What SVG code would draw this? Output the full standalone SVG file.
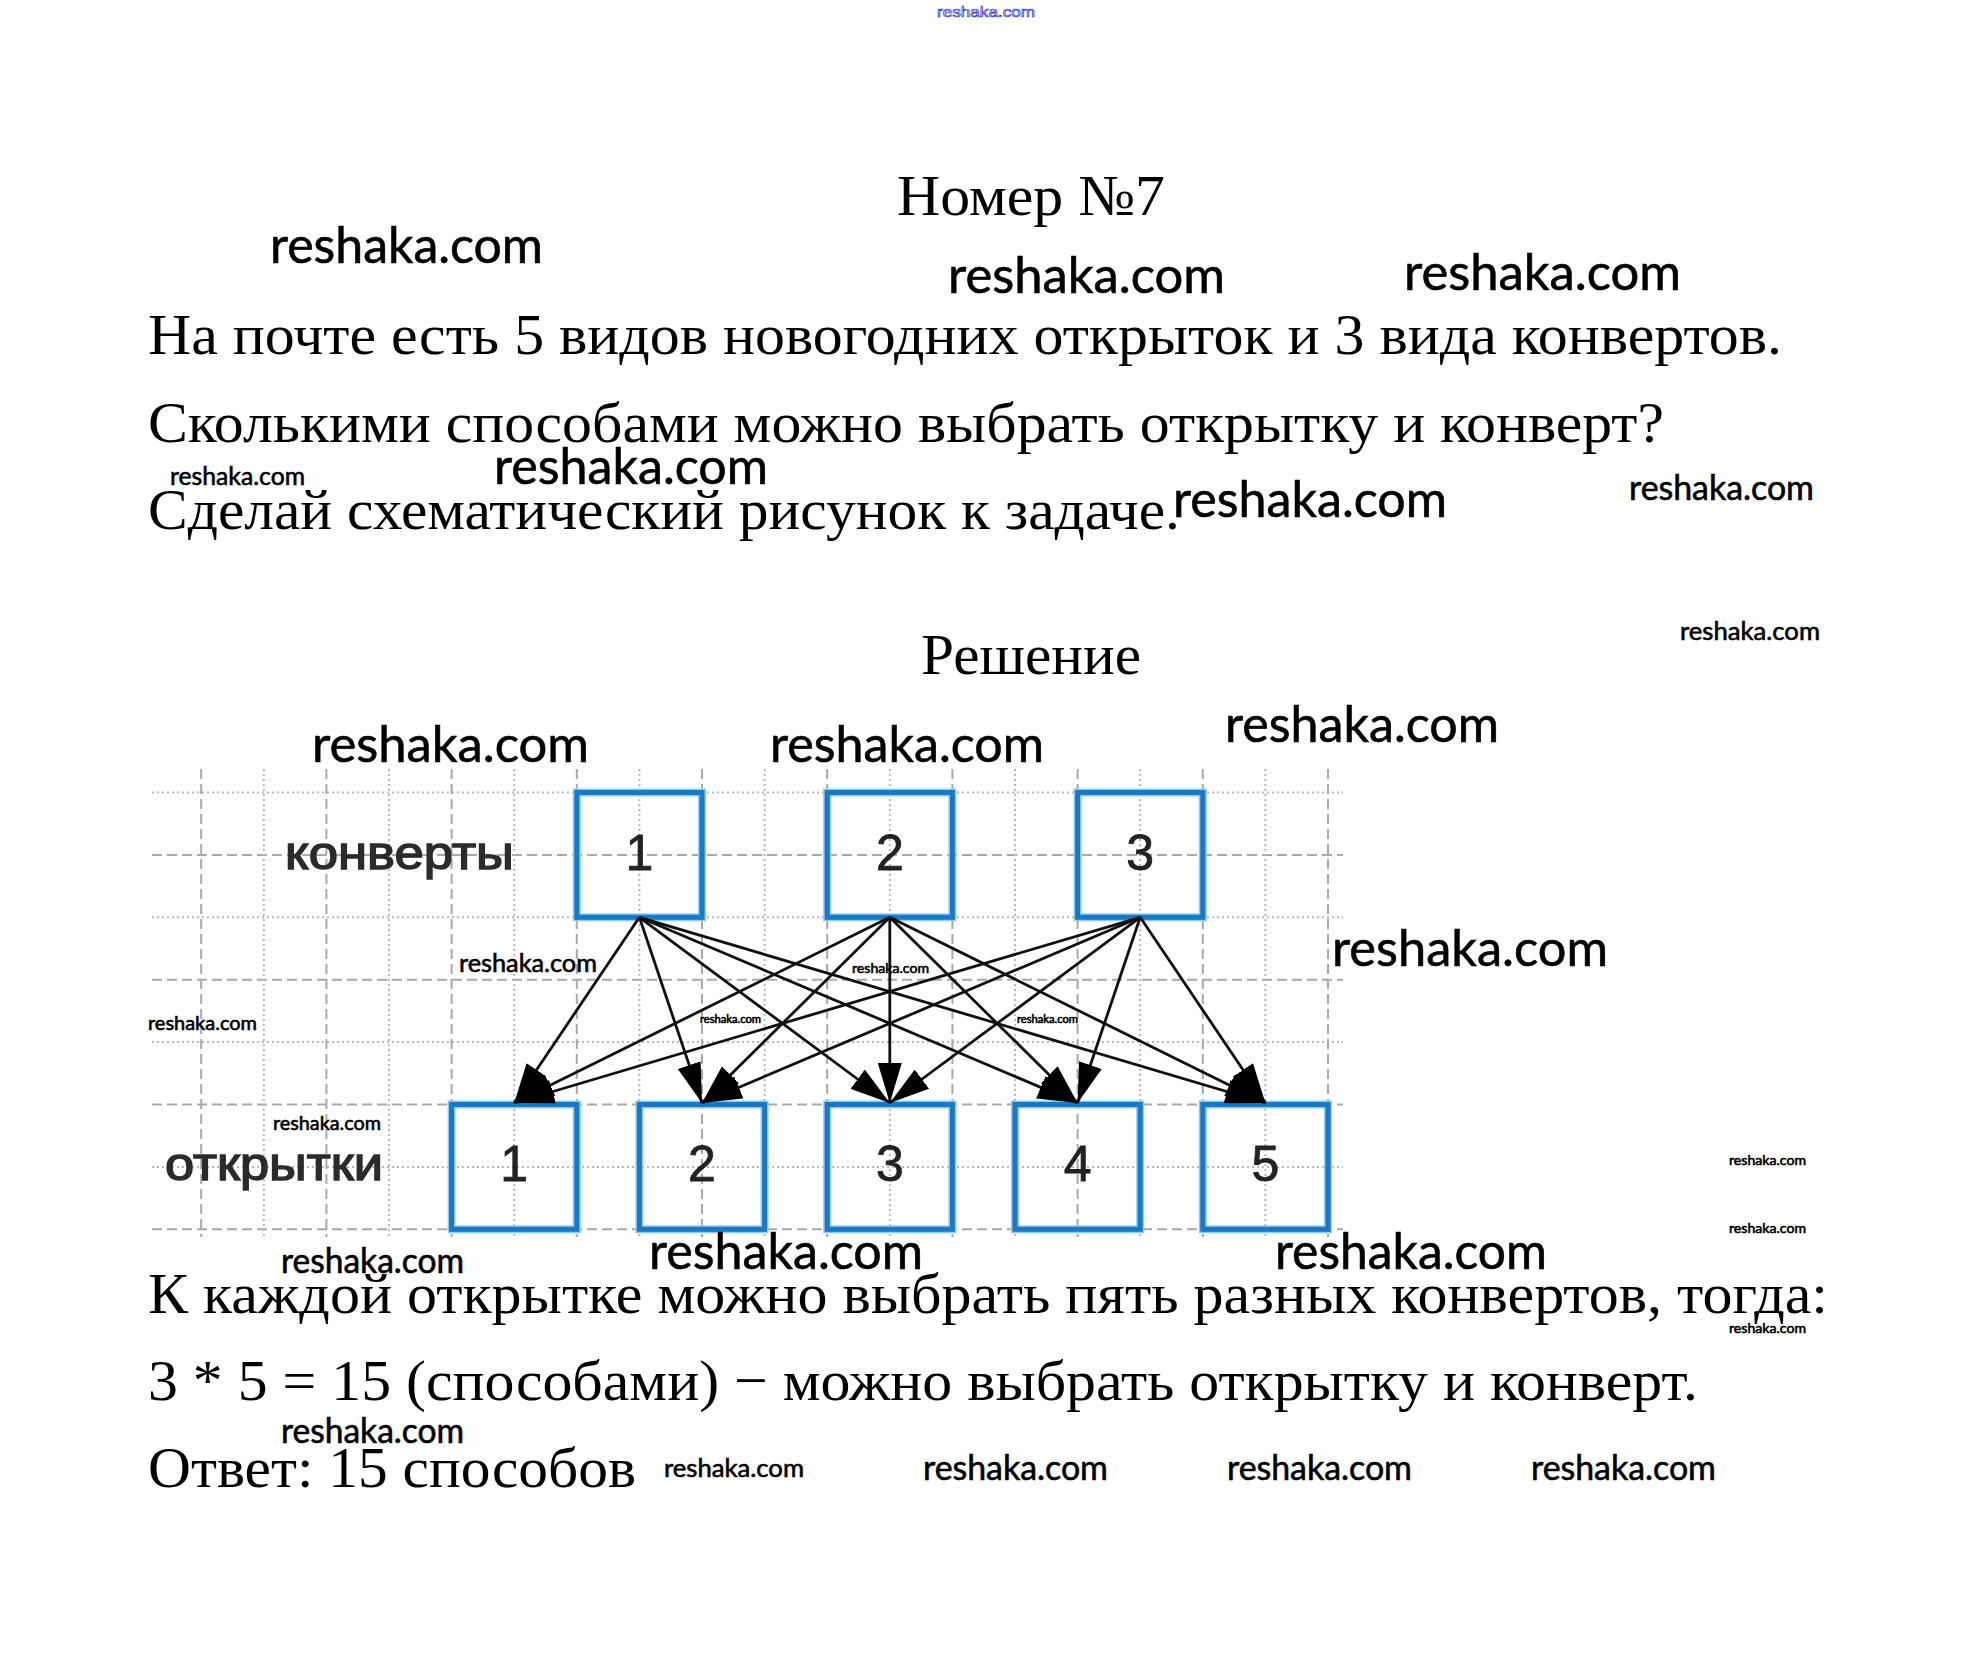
<svg xmlns="http://www.w3.org/2000/svg" width="1970" height="1672" viewBox="0 0 1970 1672">
<defs>
<style>
.serif{font-family:"Liberation Serif","Times New Roman",serif;font-size:58px;fill:#000}
.wm{font-family:Lato,"Liberation Sans",sans-serif;fill:#000;stroke:#000;stroke-width:0.6}
.gd{stroke:#a9a9a9;stroke-width:2;stroke-dasharray:10 5;fill:none}
.gt{stroke:#b9b9b9;stroke-width:2;stroke-dasharray:2 3;fill:none}
.boxo{fill:none;stroke:#8ccbf0;stroke-width:8}
.boxi{fill:none;stroke:#1a79c4;stroke-width:5}
.num{font-family:"Liberation Sans",Arial,sans-serif;font-size:50px;fill:#222;stroke:#222;stroke-width:0.8;text-anchor:middle}
.lbl{font-family:"Liberation Sans",Arial,sans-serif;font-size:46px;fill:#2b2b2b;stroke:#2b2b2b;stroke-width:1.4}
.c{stroke:#111;stroke-width:2.8;fill:none;marker-end:url(#ah)}
</style>
<marker id="ah" markerUnits="userSpaceOnUse" viewBox="0 -12 40 24" refX="40" refY="0" markerWidth="40" markerHeight="24" orient="auto">
<path d="M0,-12 L40,0 L0,12 Z" fill="#000"/>
</marker>
</defs>
<rect width="1970" height="1672" fill="#fff"/>

<text x="937" y="17" font-family="Liberation Sans, sans-serif" font-size="15" fill="none" stroke="#2b2bd0" stroke-width="0.7" textLength="98" lengthAdjust="spacingAndGlyphs">reshaka.com</text>

<g id="texts">
<text class="serif" x="897" y="215" textLength="268" lengthAdjust="spacingAndGlyphs">Номер №7</text>
<text class="serif" x="148" y="354" textLength="1634" lengthAdjust="spacingAndGlyphs">На почте есть 5 видов новогодних открыток и 3 вида конвертов.</text>
<text class="serif" x="148" y="442" textLength="1516" lengthAdjust="spacingAndGlyphs">Сколькими способами можно выбрать открытку и конверт?</text>
<text class="serif" x="148" y="529" textLength="1032" lengthAdjust="spacingAndGlyphs">Сделай схематический рисунок к задаче.</text>
<text class="serif" x="921" y="674" textLength="220" lengthAdjust="spacingAndGlyphs">Решение</text>
<text class="serif" x="148" y="1313" textLength="1680" lengthAdjust="spacingAndGlyphs">К каждой открытке можно выбрать пять разных конвертов, тогда:</text>
<text class="serif" x="148" y="1400" textLength="1550" lengthAdjust="spacingAndGlyphs">3 * 5 = 15 (способами) − можно выбрать открытку и конверт.</text>
<text class="serif" x="148" y="1487" textLength="488" lengthAdjust="spacingAndGlyphs">Ответ: 15 способов</text>
</g>

<g id="grid">
<line class="gt" x1="152" y1="792.5" x2="1343" y2="792.5"/>
<line class="gd" x1="152" y1="854.9" x2="1343" y2="854.9"/>
<line class="gt" x1="152" y1="917.3" x2="1343" y2="917.3"/>
<line class="gd" x1="152" y1="979.7" x2="1343" y2="979.7"/>
<line class="gt" x1="152" y1="1042.1" x2="1343" y2="1042.1"/>
<line class="gd" x1="152" y1="1104.5" x2="1343" y2="1104.5"/>
<line class="gt" x1="152" y1="1166.9" x2="1343" y2="1166.9"/>
<line class="gd" x1="152" y1="1229.3" x2="1343" y2="1229.3"/>
<line class="gd" x1="201.2" y1="769" x2="201.2" y2="1237"/>
<line class="gt" x1="263.8" y1="769" x2="263.8" y2="1237"/>
<line class="gd" x1="326.4" y1="769" x2="326.4" y2="1237"/>
<line class="gt" x1="389" y1="769" x2="389" y2="1237"/>
<line class="gd" x1="451.6" y1="769" x2="451.6" y2="1237"/>
<line class="gt" x1="514.2" y1="769" x2="514.2" y2="1237"/>
<line class="gd" x1="576.8" y1="769" x2="576.8" y2="1237"/>
<line class="gt" x1="639.4" y1="769" x2="639.4" y2="1237"/>
<line class="gd" x1="702" y1="769" x2="702" y2="1237"/>
<line class="gt" x1="764.6" y1="769" x2="764.6" y2="1237"/>
<line class="gd" x1="827.2" y1="769" x2="827.2" y2="1237"/>
<line class="gt" x1="889.8" y1="769" x2="889.8" y2="1237"/>
<line class="gd" x1="952.4" y1="769" x2="952.4" y2="1237"/>
<line class="gt" x1="1015" y1="769" x2="1015" y2="1237"/>
<line class="gd" x1="1077.6" y1="769" x2="1077.6" y2="1237"/>
<line class="gt" x1="1140.2" y1="769" x2="1140.2" y2="1237"/>
<line class="gd" x1="1202.8" y1="769" x2="1202.8" y2="1237"/>
<line class="gt" x1="1265.4" y1="769" x2="1265.4" y2="1237"/>
<line class="gd" x1="1328" y1="769" x2="1328" y2="1237"/>
</g>

<text class="lbl" x="285" y="869" textLength="229" lengthAdjust="spacingAndGlyphs">конверты</text>
<text class="lbl" x="165" y="1180" textLength="218" lengthAdjust="spacingAndGlyphs">открытки</text>

<g id="env1"><rect class="boxo" x="576.8" y="792.5" width="125.2" height="124.8"/><rect class="boxi" x="576.8" y="792.5" width="125.2" height="124.8"/><text class="num" x="639.4" y="870">1</text></g>
<g id="env2"><rect class="boxo" x="827.2" y="792.5" width="125.2" height="124.8"/><rect class="boxi" x="827.2" y="792.5" width="125.2" height="124.8"/><text class="num" x="889.8" y="870">2</text></g>
<g id="env3"><rect class="boxo" x="1077.6" y="792.5" width="125.2" height="124.8"/><rect class="boxi" x="1077.6" y="792.5" width="125.2" height="124.8"/><text class="num" x="1140.2" y="870">3</text></g>

<g id="card1"><rect class="boxo" x="451.6" y="1104.5" width="125.2" height="124.8"/><rect class="boxi" x="451.6" y="1104.5" width="125.2" height="124.8"/><text class="num" x="514.2" y="1181">1</text></g>
<g id="card2"><rect class="boxo" x="639.4" y="1104.5" width="125.2" height="124.8"/><rect class="boxi" x="639.4" y="1104.5" width="125.2" height="124.8"/><text class="num" x="702" y="1181">2</text></g>
<g id="card3"><rect class="boxo" x="827.2" y="1104.5" width="125.2" height="124.8"/><rect class="boxi" x="827.2" y="1104.5" width="125.2" height="124.8"/><text class="num" x="889.8" y="1181">3</text></g>
<g id="card4"><rect class="boxo" x="1015" y="1104.5" width="125.2" height="124.8"/><rect class="boxi" x="1015" y="1104.5" width="125.2" height="124.8"/><text class="num" x="1077.6" y="1181">4</text></g>
<g id="card5"><rect class="boxo" x="1202.8" y="1104.5" width="125.2" height="124.8"/><rect class="boxi" x="1202.8" y="1104.5" width="125.2" height="124.8"/><text class="num" x="1265.4" y="1181">5</text></g>

<g id="connectors">
<line class="c" x1="639.4" y1="917.3" x2="514.2" y2="1103"/>
<line class="c" x1="639.4" y1="917.3" x2="702" y2="1103"/>
<line class="c" x1="639.4" y1="917.3" x2="889.8" y2="1103"/>
<line class="c" x1="639.4" y1="917.3" x2="1077.6" y2="1103"/>
<line class="c" x1="639.4" y1="917.3" x2="1265.4" y2="1103"/>
<line class="c" x1="889.8" y1="917.3" x2="514.2" y2="1103"/>
<line class="c" x1="889.8" y1="917.3" x2="702" y2="1103"/>
<line class="c" x1="889.8" y1="917.3" x2="889.8" y2="1103"/>
<line class="c" x1="889.8" y1="917.3" x2="1077.6" y2="1103"/>
<line class="c" x1="889.8" y1="917.3" x2="1265.4" y2="1103"/>
<line class="c" x1="1140.2" y1="917.3" x2="514.2" y2="1103"/>
<line class="c" x1="1140.2" y1="917.3" x2="702" y2="1103"/>
<line class="c" x1="1140.2" y1="917.3" x2="889.8" y2="1103"/>
<line class="c" x1="1140.2" y1="917.3" x2="1077.6" y2="1103"/>
<line class="c" x1="1140.2" y1="917.3" x2="1265.4" y2="1103"/>
</g>

<g id="watermarks">
<text class="wm" x="270" y="263" font-size="50" textLength="273" lengthAdjust="spacingAndGlyphs">reshaka.com</text>
<text class="wm" x="948" y="293" font-size="50" textLength="277" lengthAdjust="spacingAndGlyphs">reshaka.com</text>
<text class="wm" x="1404" y="290" font-size="50" textLength="277" lengthAdjust="spacingAndGlyphs">reshaka.com</text>
<text class="wm" x="170" y="485" font-size="25" textLength="135" lengthAdjust="spacingAndGlyphs">reshaka.com</text>
<text class="wm" x="494" y="484" font-size="50" textLength="274" lengthAdjust="spacingAndGlyphs">reshaka.com</text>
<text class="wm" x="1173" y="517" font-size="50" textLength="274" lengthAdjust="spacingAndGlyphs">reshaka.com</text>
<text class="wm" x="1629" y="500" font-size="34" textLength="185" lengthAdjust="spacingAndGlyphs">reshaka.com</text>
<text class="wm" x="1680" y="640" font-size="25" textLength="140" lengthAdjust="spacingAndGlyphs">reshaka.com</text>
<text class="wm" x="312" y="762" font-size="50" textLength="277" lengthAdjust="spacingAndGlyphs">reshaka.com</text>
<text class="wm" x="770" y="762" font-size="50" textLength="274" lengthAdjust="spacingAndGlyphs">reshaka.com</text>
<text class="wm" x="1225" y="742" font-size="50" textLength="274" lengthAdjust="spacingAndGlyphs">reshaka.com</text>
<text class="wm" x="1332" y="966" font-size="50" textLength="276" lengthAdjust="spacingAndGlyphs">reshaka.com</text>
<text class="wm" x="459" y="972" font-size="25" textLength="138" lengthAdjust="spacingAndGlyphs">reshaka.com</text>
<text class="wm" x="148" y="1030" font-size="20" textLength="109" lengthAdjust="spacingAndGlyphs">reshaka.com</text>
<text class="wm" x="852" y="973" font-size="14" textLength="77" lengthAdjust="spacingAndGlyphs" stroke-width="0.3">reshaka.com</text>
<text class="wm" x="700" y="1023" font-size="11" textLength="61" lengthAdjust="spacingAndGlyphs" stroke-width="0.2">reshaka.com</text>
<text class="wm" x="1017" y="1023" font-size="11" textLength="61" lengthAdjust="spacingAndGlyphs" stroke-width="0.2">reshaka.com</text>
<text class="wm" x="273" y="1130" font-size="20" textLength="108" lengthAdjust="spacingAndGlyphs">reshaka.com</text>
<text class="wm" x="281" y="1273" font-size="34" textLength="183" lengthAdjust="spacingAndGlyphs">reshaka.com</text>
<text class="wm" x="649" y="1269" font-size="50" textLength="274" lengthAdjust="spacingAndGlyphs">reshaka.com</text>
<text class="wm" x="1275" y="1269" font-size="50" textLength="272" lengthAdjust="spacingAndGlyphs">reshaka.com</text>
<text class="wm" x="1729" y="1165" font-size="14" textLength="77" lengthAdjust="spacingAndGlyphs" stroke-width="0.3">reshaka.com</text>
<text class="wm" x="1729" y="1233" font-size="14" textLength="77" lengthAdjust="spacingAndGlyphs" stroke-width="0.3">reshaka.com</text>
<text class="wm" x="1729" y="1333" font-size="14" textLength="77" lengthAdjust="spacingAndGlyphs" stroke-width="0.3">reshaka.com</text>
<text class="wm" x="281" y="1443" font-size="34" textLength="183" lengthAdjust="spacingAndGlyphs">reshaka.com</text>
<text class="wm" x="664" y="1477" font-size="25" textLength="140" lengthAdjust="spacingAndGlyphs">reshaka.com</text>
<text class="wm" x="923" y="1480" font-size="34" textLength="185" lengthAdjust="spacingAndGlyphs">reshaka.com</text>
<text class="wm" x="1227" y="1480" font-size="34" textLength="185" lengthAdjust="spacingAndGlyphs">reshaka.com</text>
<text class="wm" x="1531" y="1480" font-size="34" textLength="185" lengthAdjust="spacingAndGlyphs">reshaka.com</text>
</g>
</svg>
